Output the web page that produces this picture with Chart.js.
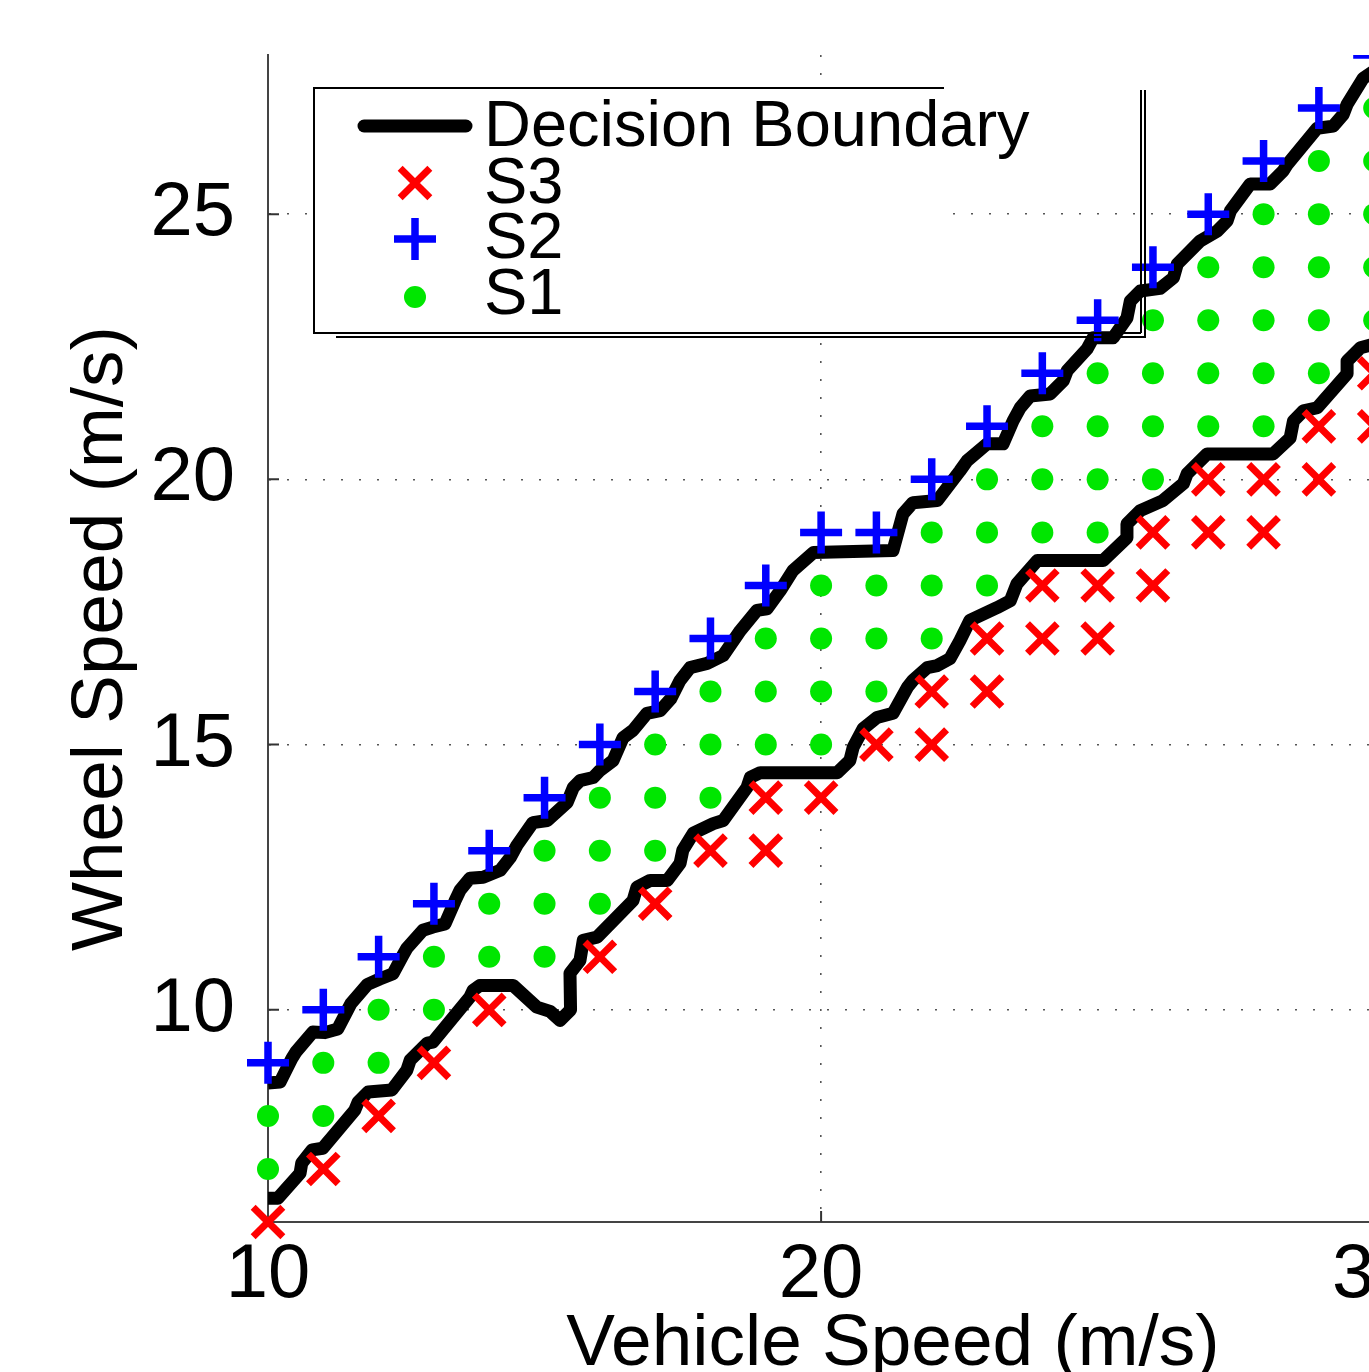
<!DOCTYPE html>
<html><head><meta charset="utf-8">
<script src="https://cdn.jsdelivr.net/npm/chart.js@4/dist/chart.umd.min.js"></script>
<style>
html,body{margin:0;padding:0;background:#fff;overflow:hidden;}
#wrap{position:relative;width:1530px;height:1372px;}
canvas{display:block;}
</style></head><body>
<div id="wrap"><canvas id="c" width="1530" height="1372"></canvas></div>
<script>
// ---- tick labels ----
const xTicks = [10, 20, 30];
const yTicks = [10, 15, 20, 25];
const xTitle = 'Vehicle Speed (m/s)';
const yTitle = 'Wheel Speed (m/s)';

// ---- series (vehicle speed, wheel speed) ----
const s3Points = [
  [10,6],[11,7],[12,8],[13,9],[14,10],[16,11],[17,12],[18,13],[19,14],[19,13],
  [20,14],[21,15],[22,16],[22,15],[23,17],[23,16],[24,18],[24,17],[25,18],[25,17],
  [26,19],[26,18],[27,20],[27,19],[28,20],[28,19],[29,21],[29,20],[30,22],[30,21]
];
const s2Points = [
  [10,9],[11,10],[12,11],[13,12],[14,13],[15,14],[16,15],[17,16],[18,17],[19,18],
  [20,19],[21,19],[22,20],[23,21],[24,22],[25,23],[26,24],[27,25],[28,26],[29,27],[30,28]
];
const s1Points = [
  [10,8],[10,7],
  [11,9],[11,8],
  [12,10],[12,9],
  [13,11],[13,10],
  [14,12],[14,11],
  [15,13],[15,12],[15,11],
  [16,14],[16,13],[16,12],
  [17,15],[17,14],[17,13],
  [18,16],[18,15],[18,14],
  [19,17],[19,16],[19,15],
  [20,18],[20,17],[20,16],[20,15],
  [21,18],[21,17],[21,16],
  [22,19],[22,18],[22,17],
  [23,20],[23,19],[23,18],
  [24,21],[24,20],[24,19],
  [25,22],[25,21],[25,20],[25,19],
  [26,23],[26,22],[26,21],[26,20],
  [27,24],[27,23],[27,22],[27,21],
  [28,25],[28,24],[28,23],[28,22],[28,21],
  [29,26],[29,25],[29,24],[29,23],[29,22],
  [30,27],[30,26],[30,25],[30,24],[30,23]
];
const upperBoundary = [
  [10.00,8.62],[10.22,8.64],[10.43,9.08],[10.50,9.20],[10.81,9.58],
  [11.03,9.57],[11.26,9.64],[11.43,9.98],[11.50,10.12],[11.80,10.48],
  [12.02,10.58],[12.26,10.68],[12.44,11.03],[12.51,11.16],[12.80,11.50],
  [12.98,11.56],[13.20,11.62],[13.38,12.05],[13.47,12.25],[13.65,12.48],[13.89,12.50],
  [14.20,12.63],[14.38,12.87],[14.50,13.10],[14.79,13.53],
  [15.05,13.57],[15.41,13.91],[15.52,14.19],[15.64,14.32],[15.88,14.38],
  [16.00,14.51],[16.24,14.70],[16.42,15.13],[16.60,15.27],[16.85,15.59],[17.09,15.64],
  [17.28,15.86],[17.45,16.21],[17.63,16.45],[17.94,16.53],
  [18.23,16.68],[18.54,17.15],[18.84,17.53],[19.02,17.56],
  [19.26,17.90],[19.49,18.28],[19.86,18.62],[21.30,18.66],
  [21.48,19.35],[21.66,19.56],[22.10,19.60],
  [22.51,20.16],[22.64,20.35],[23.00,20.67],[23.29,20.67],
  [23.47,21.10],[23.60,21.35],[23.78,21.57],[24.14,21.61],
  [24.38,21.86],[24.45,22.05],[24.81,22.46],[24.92,22.67],[25.28,22.67],
  [25.53,23.04],[25.59,23.36],[25.77,23.55],[26.13,23.60],
  [26.37,23.80],[26.44,24.06],[26.85,24.49],[27.16,24.68],
  [27.34,24.87],[27.40,25.06],[27.76,25.57],[28.12,25.57],
  [28.35,25.81],[28.43,25.94],[28.97,26.62],[29.26,26.66],
  [29.44,26.88],[29.51,27.07],[29.80,27.56],[30.00,27.70]
];
const lowerBoundary = [
  [10.00,6.45],[10.18,6.45],[10.58,6.92],[10.61,7.11],[10.80,7.36],[10.99,7.39],
  [11.57,8.11],[11.63,8.26],[11.81,8.45],[12.24,8.49],
  [12.51,8.86],[12.57,9.05],[12.88,9.37],[12.98,9.39],
  [13.65,10.24],[13.71,10.37],[13.83,10.46],[14.43,10.46],
  [14.86,10.05],[15.10,9.97],[15.28,9.80],[15.47,10.00],[15.46,10.69],
  [15.64,10.93],[15.70,11.31],[15.95,11.37],
  [16.60,12.06],[16.67,12.31],[16.91,12.44],[17.22,12.44],
  [17.45,12.76],[17.50,13.01],[17.69,13.33],[18.05,13.51],[18.23,13.57],
  [18.66,14.19],[18.72,14.38],[18.90,14.47],[20.29,14.47],
  [20.52,14.70],[20.58,14.95],[20.76,15.30],[21.01,15.51],[21.30,15.59],
  [21.56,16.08],[21.66,16.21],[21.92,16.45],[22.10,16.49],
  [22.33,16.62],[22.51,16.96],[22.69,17.34],[23.18,17.58],[23.42,17.71],
  [23.54,18.03],[23.91,18.47],[25.10,18.47],
  [25.53,18.90],[25.53,19.16],[25.77,19.41],[26.18,19.60],
  [26.55,19.92],[26.62,20.11],[26.98,20.48],[28.17,20.48],
  [28.48,20.78],[28.54,21.10],[28.72,21.29],[28.97,21.35],
  [29.51,21.99],[29.51,22.23],[29.75,22.48],[30.00,22.55]
];

const toXY = arr => arr.map(([x, y]) => ({x, y}));
const FONT = '"Liberation Sans", Arial, sans-serif';

const markerClip = {left: 40, top: 0, right: 40, bottom: 40};
const lineClip = {left: 0, top: 0, right: 20, bottom: 0};

const inwardTicks = {
  id: 'inwardTicks',
  beforeDatasetsDraw(chart) {
    const {ctx, chartArea: a, scales: {x, y}} = chart;
    ctx.save();
    ctx.strokeStyle = '#333';
    ctx.lineWidth = 2;
    ctx.beginPath();
    xTicks.forEach(v => {
      const px = x.getPixelForValue(v);
      if (px > a.left + 2) { ctx.moveTo(px, a.bottom); ctx.lineTo(px, a.bottom - 11); }
    });
    yTicks.forEach(v => {
      const py = y.getPixelForValue(v);
      ctx.moveTo(a.left, py); ctx.lineTo(a.left + 11, py);
    });
    ctx.stroke();
    ctx.restore();
  }
};

function drawSymbol(ctx, ds, cx, cy) {
  ctx.save();
  ctx.strokeStyle = ds.pointBorderColor;
  ctx.fillStyle = ds.pointBackgroundColor;
  ctx.lineWidth = ds.pointBorderWidth;
  const r = ds.pointRadius;
  ctx.beginPath();
  if (ds.pointStyle === 'circle') {
    ctx.arc(cx, cy, r, 0, Math.PI * 2);
    ctx.fill();
  } else if (ds.pointStyle === 'cross') {
    ctx.moveTo(cx - r, cy); ctx.lineTo(cx + r, cy);
    ctx.moveTo(cx, cy - r); ctx.lineTo(cx, cy + r);
    ctx.stroke();
  } else {
    const d = r * Math.SQRT1_2;
    ctx.moveTo(cx - d, cy - d); ctx.lineTo(cx + d, cy + d);
    ctx.moveTo(cx + d, cy - d); ctx.lineTo(cx - d, cy + d);
    ctx.stroke();
  }
  ctx.restore();
}

const boxLegend = {
  id: 'boxLegend',
  afterDatasetsDraw(chart) {
    const ctx = chart.ctx;
    ctx.save();
    ctx.fillStyle = '#fff';
    ctx.fillRect(314, 88, 630, 245);
    ctx.strokeStyle = '#000';
    ctx.lineWidth = 2;
    ctx.beginPath();
    ctx.moveTo(944, 88); ctx.lineTo(314, 88); ctx.lineTo(314, 333); ctx.lineTo(1141, 333);
    ctx.moveTo(1141, 90); ctx.lineTo(1141, 333);
    ctx.moveTo(336, 337); ctx.lineTo(1145, 337); ctx.lineTo(1145, 90);
    ctx.stroke();

    const seen = new Set();
    const items = [];
    chart.data.datasets.forEach(ds => { if (!seen.has(ds.label)) { seen.add(ds.label); items.push(ds); } });
    items.sort((a, b) => a.legendRank - b.legendRank);
    const rowsY = [126, 183, 239, 297];
    const baseY = [146, 203, 258, 314];
    ctx.font = '65px ' + FONT;
    ctx.fillStyle = '#000';
    ctx.textBaseline = 'alphabetic';
    items.forEach((ds, i) => {
      if (ds.showLine) {
        ctx.save();
        ctx.strokeStyle = ds.borderColor;
        ctx.lineWidth = 13;
        ctx.lineCap = 'round';
        ctx.beginPath();
        ctx.moveTo(364, rowsY[i]); ctx.lineTo(466, rowsY[i]);
        ctx.stroke();
        ctx.restore();
      } else {
        drawSymbol(ctx, ds, 415, rowsY[i]);
      }
      ctx.fillStyle = '#000';
      ctx.fillText(ds.label, 484, baseY[i]);
    });
    ctx.restore();
  }
};

new Chart(document.getElementById('c'), {
  type: 'scatter',
  data: {
    datasets: [
      {label: 'S3', legendRank: 1, data: toXY(s3Points), pointStyle: 'crossRot', pointRadius: 21,
       pointBorderWidth: 7, pointBorderColor: '#ff0000', pointBackgroundColor: '#ff0000',
       pointHoverRadius: 21, order: 1, clip: markerClip},
      {label: 'S2', legendRank: 2, data: toXY(s2Points), pointStyle: 'cross', pointRadius: 21,
       pointBorderWidth: 7.5, pointBorderColor: '#0000ff', pointBackgroundColor: '#0000ff',
       pointHoverRadius: 21, order: 1, clip: markerClip},
      {label: 'S1', legendRank: 3, data: toXY(s1Points), pointStyle: 'circle', pointRadius: 11,
       pointBorderWidth: 0, pointBorderColor: '#00e600', pointBackgroundColor: '#00e600',
       pointHoverRadius: 11, order: 1, clip: markerClip},
      {label: 'Decision Boundary', legendRank: 0, data: toXY(upperBoundary), showLine: true,
       borderColor: '#000', borderWidth: 13, borderJoinStyle: 'round', borderCapStyle: 'butt',
       pointRadius: 0, pointHoverRadius: 0, order: 5, clip: lineClip},
      {label: 'Decision Boundary', legendRank: 0, data: toXY(lowerBoundary), showLine: true,
       borderColor: '#000', borderWidth: 13, borderJoinStyle: 'round', borderCapStyle: 'butt',
       pointRadius: 0, pointHoverRadius: 0, order: 5, clip: lineClip}
    ]
  },
  options: {
    responsive: false,
    animation: false,
    devicePixelRatio: 1,
    layout: {autoPadding: false, padding: {top: 55, right: 12, bottom: 0, left: 0}},
    plugins: {legend: {display: false}, tooltip: {enabled: false}},
    events: [],
    scales: {
      x: {
        type: 'linear', min: 10, max: 32.6,
        afterBuildTicks: s => { s.ticks = xTicks.map(v => ({value: v})); },
        afterFit: s => { s.height = 150; s.paddingLeft = 0; s.paddingRight = 0; },
        grid: {color: '#555', lineWidth: 1.6, drawTicks: false},
        border: {display: true, color: '#444', width: 2, dash: [2, 16]},
        ticks: {color: '#000', font: {family: FONT, size: 76}, padding: 8, maxRotation: 0,
                callback: v => String(v)},
        title: {display: true, text: xTitle, color: '#000',
                font: {family: FONT, size: 73, lineHeight: '54px'}, padding: 0}
      },
      y: {
        type: 'linear', min: 6, max: 28,
        afterBuildTicks: s => { s.ticks = yTicks.map(v => ({value: v})); },
        afterFit: s => { s.width = 268; s.paddingTop = 0; s.paddingBottom = 0; },
        grid: {color: '#555', lineWidth: 1.6, drawTicks: false},
        border: {display: true, color: '#444', width: 2, dash: [2, 16]},
        ticks: {color: '#000', font: {family: FONT, size: 76}, padding: 33,
                callback: v => String(v)},
        title: {display: true, text: yTitle, color: '#000',
                font: {family: FONT, size: 73, lineHeight: 1}, padding: {top: 65, bottom: 0}}
      }
    }
  },
  plugins: [inwardTicks, boxLegend]
});
</script>
</body></html>
